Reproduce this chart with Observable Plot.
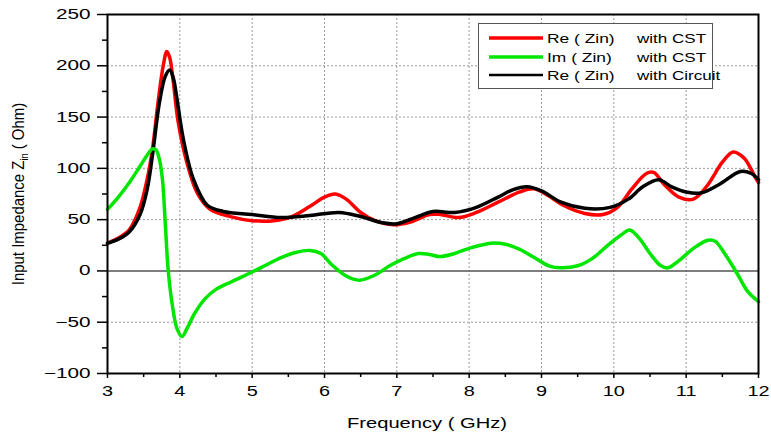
<!DOCTYPE html>
<html><head><meta charset="utf-8">
<script src="https://cdn.jsdelivr.net/npm/d3@7"></script>
<script src="https://cdn.jsdelivr.net/npm/@observablehq/plot@0.6"></script>
<style>body{margin:0;background:#fff} svg{display:block}</style>
</head><body><div id="chart"></div>
<script>
// ---- data ----
const legendLeft = ["Re ( Zin)", "Im ( Zin)", "Re ( Zin)"];
const legendRight = ["with CST", "with CST", "with Circuit"];
const seriesColors = ["#ff0000", "#00e600", "#000000"];

const reCstF = [3.0,3.15,3.3,3.45,3.55,3.62,3.7,3.77,3.82,3.86,3.9,3.98,4.1,4.24,4.42,4.7,5.0,5.3,5.55,5.8,6.0,6.15,6.3,6.5,6.7,6.95,7.2,7.45,7.6,7.85,8.1,8.4,8.7,8.9,9.1,9.3,9.6,9.85,10.05,10.25,10.45,10.55,10.7,10.9,11.1,11.3,11.5,11.65,11.8,11.95,12.0];
const reCstV = [27,32,40,62,90,118,165,200,214,208,190,144,105,76,60,53,49,49,53,63,72,75,70,57,49,45,48,55,55,52,57,67,77,80,73,64,56,55,62,80,95,96,84,72,70,84,106,116,110,92,86];

const imCstF = [3.0,3.15,3.3,3.45,3.55,3.62,3.67,3.72,3.76,3.8,3.84,3.9,3.96,4.03,4.1,4.2,4.35,4.5,4.7,5.0,5.2,5.4,5.6,5.8,5.95,6.1,6.3,6.48,6.7,6.9,7.1,7.3,7.45,7.6,7.8,8.0,8.3,8.5,8.7,8.9,9.1,9.27,9.5,9.7,9.9,10.1,10.22,10.35,10.5,10.65,10.75,10.9,11.1,11.3,11.4,11.55,11.7,11.85,12.0];
const imCstV = [60,72,86,102,113,119,118,108,89,45,0,-35,-56,-64,-56,-42,-27,-18,-11,-1,6,13,18,20,17,6,-5,-9,-4,5,12,17,16,14,17,22,27,26,21,13,5,3,5,12,24,35,40,32,17,5,3,10,22,30,29,15,-2,-20,-30];

const reCirF = [3.0,3.15,3.3,3.45,3.55,3.62,3.72,3.8,3.86,3.91,3.96,4.05,4.19,4.38,4.6,5.0,5.4,5.8,6.2,6.5,6.8,7.0,7.25,7.5,7.8,8.1,8.4,8.6,8.8,9.0,9.27,9.6,9.95,10.2,10.4,10.62,10.8,11.0,11.2,11.45,11.75,11.9,12.0];
const reCirV = [27,31,38,55,80,112,165,190,196,188,168,128,89,64,58,55,52,54,57,53,47,46,52,58,57,62,72,79,82,78,67,61,62,70,82,89,82,77,76,84,97,95,89];

const xTicks = [3,4,5,6,7,8,9,10,11,12];
const xMinor = [3.5,4.5,5.5,6.5,7.5,8.5,9.5,10.5,11.5];
const yTicks = [-100,-50,0,50,100,150,200,250];
const yMinor = [-75,-25,25,75,125,175,225];
const xGrid = [4,5,6,7,8,9,10,11];
const yGrid = [-50,50,100,150,200];
const xTitle = "Frequency ( GHz)";
const yTitleMain = "Input Impedance Z", yTitleSub = "in", yTitleEnd = " ( Ohm)";

const toRows = (F, V) => F.map((f, i) => ({f, v: V[i]}));
const reCst = toRows(reCstF, reCstV), imCst = toRows(imCstF, imCstV), reCir = toRows(reCirF, reCirV);

const FONT = "'Liberation Sans', Arial, sans-serif";
const gridStyle = {stroke: "#9a9a9a", strokeWidth: 1, strokeDasharray: "2,2"};

const chart = Plot.plot({
  width: 771, height: 436,
  marginLeft: 107, marginRight: 13, marginTop: 14, marginBottom: 63,
  style: {fontFamily: FONT, fontSize: "14px", background: "#fff", color: "#000"},
  x: {domain: [3, 12]},
  y: {domain: [-100, 250]},
  marks: [
    Plot.ruleX(xGrid, {x: d => d, ...gridStyle}),
    Plot.ruleY(yGrid, {y: d => d, ...gridStyle}),
    Plot.ruleY([0], {stroke: "#555", strokeWidth: 1.5}),
    Plot.line(reCst, {x: "f", y: "v", stroke: seriesColors[0], strokeWidth: 3.5, curve: "catmull-rom"}),
    Plot.line(reCir, {x: "f", y: "v", stroke: seriesColors[2], strokeWidth: 3.5, curve: "catmull-rom"}),
    Plot.line(imCst, {x: "f", y: "v", stroke: seriesColors[1], strokeWidth: 3.5, curve: "catmull-rom"}),
    Plot.axisY(yTicks, {tickSize: 10, tickPadding: 7, strokeWidth: 1.5, fontSize: 14, label: null}),
    Plot.axisY(yMinor, {tickSize: 5, strokeWidth: 1.5, text: null, label: null}),
    Plot.axisX(xTicks, {tickSize: 5, tickPadding: 8, strokeWidth: 1.5, fontSize: 14, label: null}),
    Plot.axisX(xMinor, {tickSize: 4, strokeWidth: 1.5, text: null, label: null}),
    Plot.frame({stroke: "#000", strokeWidth: 2, fill: "none"})
  ]
});
document.getElementById("chart").appendChild(chart);

// horizontal stretch of tick labels (reference text is widened)
const svg = d3.select(chart);
function stretch(sel, s) {
  sel.each(function () {
    const t = d3.select(this);
    let tr = t.attr("transform");
    if (!tr) {
      const x = +t.attr("x") || 0, y = +t.attr("y") || 0;
      t.attr("x", null).attr("y", null);
      tr = `translate(${x},${y})`;
    }
    t.attr("transform", tr + ` scale(${s},1)`);
  });
}
stretch(svg.selectAll("g[aria-label='y-axis tick label'] text"), 1.48);
stretch(svg.selectAll("g[aria-label='x-axis tick label'] text"), 1.42);

// axis titles
svg.append("text")
  .attr("transform", "translate(427,428) scale(1.44,1)")
  .attr("text-anchor", "middle").attr("font-family", FONT).attr("font-size", 14).attr("fill", "#000")
  .text(xTitle);
const yt = svg.append("text")
  .attr("transform", "translate(24,194) rotate(-90) scale(1.15,1.25)")
  .attr("text-anchor", "middle").attr("font-family", FONT).attr("font-size", 13).attr("fill", "#000");
yt.append("tspan").text(yTitleMain);
yt.append("tspan").attr("font-size", 8).attr("dy", 3).text(yTitleSub);
yt.append("tspan").attr("dy", -3).text(yTitleEnd);

// legend
const lg = svg.append("g").attr("text-anchor", "start");
lg.append("rect").attr("x", 478.5).attr("y", 23.5).attr("width", 234).attr("height", 65)
  .attr("fill", "#fff").attr("stroke", "#555").attr("stroke-width", 1);
const rowsY = [38, 57, 75];
legendLeft.forEach((name, i) => {
  const y = rowsY[i];
  lg.append("line").attr("x1", 489).attr("x2", 543).attr("y1", y).attr("y2", y)
    .attr("stroke", seriesColors[i]).attr("stroke-width", i === 2 ? 2.5 : 3.5);
  lg.append("text").attr("transform", `translate(547,${y + 4.5}) scale(1.45,1)`)
    .attr("text-anchor", "start")
    .attr("font-family", FONT).attr("font-size", 12).attr("fill", "#000").text(name);
  lg.append("text").attr("transform", `translate(637,${y + 4.5}) scale(1.42,1)`)
    .attr("text-anchor", "start")
    .attr("font-family", FONT).attr("font-size", 12).attr("fill", "#000").text(legendRight[i]);
});
</script>
</body></html>
